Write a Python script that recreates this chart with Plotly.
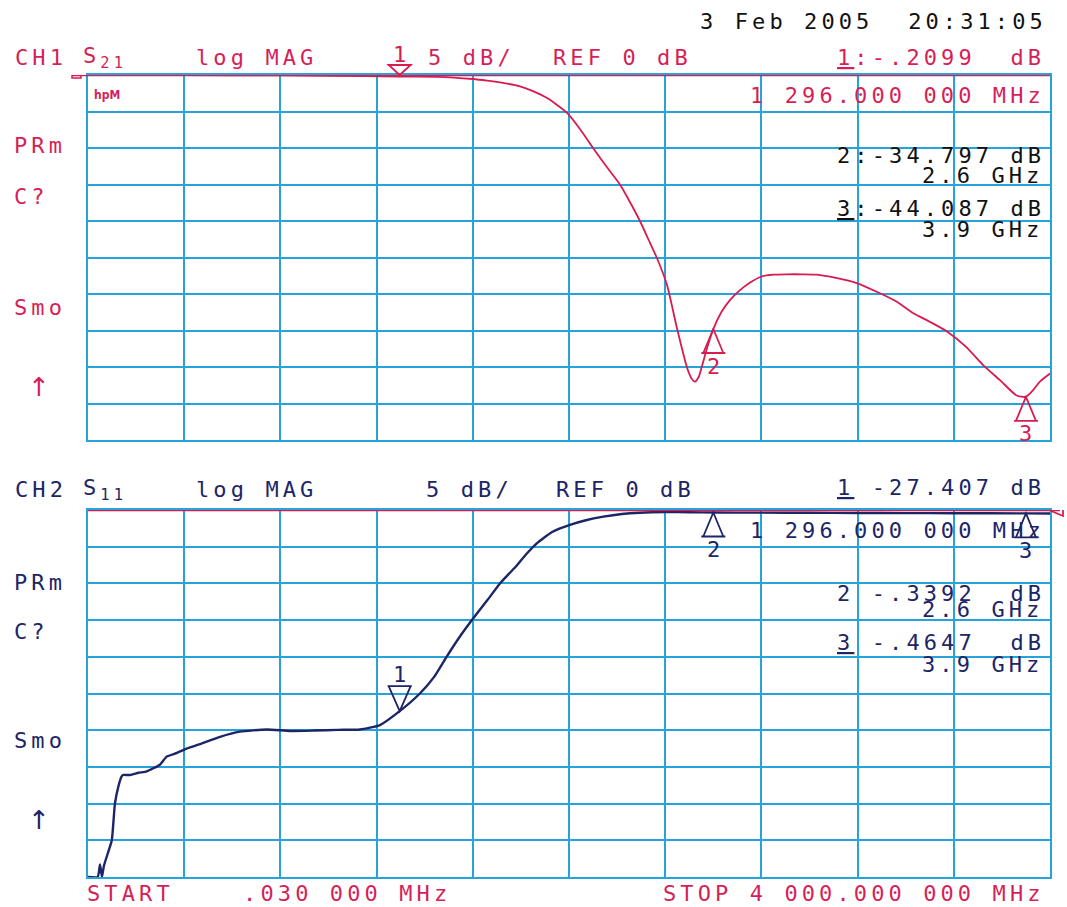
import plotly.graph_objects as go

W, H = 1067, 907
PLOT_L, PLOT_R = 88, 1050
TOP_T, TOP_B = 75, 440
BOT_T, BOT_B = 510, 877

CRIMSON = '#d61f57'
TRACE_RED = '#d81c50'
NAVY = '#1c2566'
GRID = '#27a3dc'
MONO = 'DejaVu Sans Mono'

# ---------------- data ----------------
freq_start, freq_stop = 0.03, 4000.0      # MHz
ref_db, db_per_div, n_div = 0.0, 5.0, 10

# CH1: S21 log MAG (dB) vs frequency (MHz)
s21_freq = [0.03, 400, 800, 1000, 1296, 1450, 1520, 1600, 1659, 1730, 1796, 1850,
            1909, 1950, 1992, 2050, 2100, 2155, 2212, 2255, 2295, 2330, 2366, 2407,
            2449, 2491, 2510, 2524, 2540, 2552, 2575, 2600, 2635, 2670, 2703, 2750,
            2801, 2850, 2905, 2970, 3030, 3110, 3196, 3293, 3360, 3430, 3500, 3570,
            3650, 3721, 3792, 3861, 3900, 3929, 3958, 4000]
s21_db = [0.0, -0.02, -0.05, -0.12, -0.21, -0.26, -0.35, -0.55, -0.78, -1.1, -1.55, -2.2,
          -3.15, -4.1, -5.2, -7.6, -10.0, -12.5, -15.0, -17.5, -20.0, -22.5, -25.1, -28.7,
          -34.7, -40.1, -41.6, -42.0, -41.3, -40.0, -37.3, -34.8, -32.4, -30.8, -29.7, -28.5,
          -27.6, -27.35, -27.3, -27.3, -27.35, -27.8, -28.5, -29.9, -31.0, -32.6, -33.8, -35.1,
          -37.2, -39.7, -41.8, -43.9, -44.087, -43.2, -42.0, -40.9]

# CH2: S11 log MAG (dB) vs frequency (MHz)
s11_freq = [0.03, 40, 50, 58, 66, 85, 99, 112, 126, 140, 147, 175, 210, 244, 299, 327,
            370, 410, 466, 549, 632, 743, 840, 937, 1040, 1131, 1214, 1296, 1380, 1440,
            1491, 1545, 1602, 1660, 1713, 1750, 1782, 1820, 1866, 1930, 2004, 2070, 2143,
            2220, 2295, 2400, 2503, 2600, 2800, 3000, 3200, 3400, 3600, 3900, 4000]
s11_db = [-50.0, -50.0, -48.3, -50.0, -48.5, -46.5, -45.0, -40.0, -37.7, -36.3, -36.1, -36.1,
          -35.8, -35.6, -34.7, -33.6, -33.1, -32.5, -31.9, -30.9, -30.2, -29.9, -30.1, -30.05,
          -29.95, -29.9, -29.3, -27.407, -25.0, -22.7, -20.0, -17.3, -14.75, -12.3, -10.0,
          -8.7, -7.6, -6.1, -4.54, -3.0, -2.04, -1.4, -0.91, -0.55, -0.37, -0.28, -0.3,
          -0.3392, -0.36, -0.38, -0.4, -0.42, -0.44, -0.4647, -0.47]

marker_ids = ['1', '2', '3']
marker_freq = [1296.0, 2600.0, 3900.0]
s21_marker_db = [-0.2099, -34.797, -44.087]
s11_marker_db = [-27.407, -0.3392, -0.4647]

# ---------------- figure ----------------
fig = go.Figure()
fig.add_trace(go.Scatter(x=s21_freq, y=s21_db, mode='lines', xaxis='x', yaxis='y',
                         line=dict(color=TRACE_RED, width=1.8, shape='spline', smoothing=0.6),
                         hoverinfo='skip'))
fig.add_trace(go.Scatter(x=s11_freq, y=s11_db, mode='lines', xaxis='x2', yaxis='y2',
                         line=dict(color=NAVY, width=2.4, shape='spline', smoothing=0.5),
                         hoverinfo='skip'))

x_dtick = (freq_stop - freq_start) / n_div
y_bottom = ref_db - db_per_div * n_div


def xax(anchor):
    return dict(domain=[PLOT_L / W, PLOT_R / W], range=[freq_start, freq_stop], anchor=anchor,
                tickmode='linear', tick0=freq_start, dtick=x_dtick, showgrid=True,
                gridcolor=GRID, gridwidth=2, showticklabels=False, ticks='', zeroline=False,
                showline=True, linecolor=GRID, linewidth=2, mirror=True, fixedrange=True)


def yax(anchor, top, bot):
    return dict(domain=[1 - bot / H, 1 - top / H], range=[y_bottom, ref_db], anchor=anchor,
                tickmode='linear', tick0=ref_db, dtick=db_per_div, showgrid=True,
                gridcolor=GRID, gridwidth=2, showticklabels=False, ticks='', zeroline=False,
                showline=True, linecolor=GRID, linewidth=2, mirror=True, fixedrange=True)


anns = []


def txt(text, x, y, color, anchor='left', size=22, ls=4.1, family=MONO, bold=False):
    t = f'<span style="letter-spacing:{ls}px">{text}</span>' if ls else text
    if bold:
        t = f'<b>{t}</b>'
    anns.append(dict(text=t, x=x / W, y=1 - y / H, xref='paper', yref='paper',
                     xanchor=anchor, yanchor='middle', showarrow=False, borderpad=0,
                     font=dict(family=family, size=size, color=color)))


# header / footer texts
txt('3 Feb 2005  20:31:05', 1048, 22, '#111111', anchor='right')
txt('CH1', 14, 57, CRIMSON)
txt('S<sub>21</sub>', 82, 57, CRIMSON)
txt('log MAG', 195, 57, CRIMSON)
txt('5 dB/', 427, 57, CRIMSON)
txt('REF 0 dB', 552, 57, CRIMSON)
txt('<u>1</u>:-.2099  dB', 1046, 57, CRIMSON, anchor='right')
txt('hpM', 93, 95, CRIMSON, size=12, ls=0, family='DejaVu Sans Condensed', bold=True)
txt('1 296.000 000 MHz', 1046, 96, CRIMSON, anchor='right')
txt('2:-34.797 dB', 1046, 156, '#111111', anchor='right')
txt('2.6 GHz', 1044, 175, '#111111', anchor='right')
txt('<u>3</u>:-44.087 dB', 1046, 208, '#111111', anchor='right')
txt('3.9 GHz', 1044, 230, '#111111', anchor='right')

for lab, yy in [('PRm', 145), ('C?', 197), ('Smo', 308)]:
    txt(lab, 13, yy, CRIMSON)
txt('↑', 39, 387, CRIMSON, anchor='center', ls=0, size=26, family='DejaVu Sans')

txt('CH2', 14, 489, NAVY)
txt('S<sub>11</sub>', 82, 489, NAVY)
txt('log MAG', 195, 489, NAVY)
txt('5 dB/', 425, 489, NAVY)
txt('REF 0 dB', 555, 489, NAVY)
txt('<u>1</u> -27.407 dB', 1046, 487, NAVY, anchor='right')
txt('1 296.000 000 MHz', 1046, 530, NAVY, anchor='right')
txt('2 -.3392  dB', 1046, 593, NAVY, anchor='right')
txt('2.6 GHz', 1044, 609, NAVY, anchor='right')
txt('<u>3</u> -.4647  dB', 1046, 642, NAVY, anchor='right')
txt('3.9 GHz', 1044, 664, NAVY, anchor='right')

for lab, yy in [('PRm', 582), ('C?', 631), ('Smo', 740)]:
    txt(lab, 13, yy, NAVY)
txt('↑', 39, 820, NAVY, anchor='center', ls=0, size=26, family='DejaVu Sans')

txt('START    .030 000 MHz', 86, 893, CRIMSON)
txt('STOP 4 000.000 000 MHz', 1046, 893, CRIMSON, anchor='right')

shapes = []
# reference lines (REF 0 dB) and reference pointers
shapes.append(dict(type='line', xref='x domain', yref='y', x0=-16 / 962, x1=1, y0=ref_db, y1=ref_db,
                   line=dict(color=TRACE_RED, width=2.5)))
shapes.append(dict(type='path', xref='x domain', yref='y', xsizemode='pixel', ysizemode='pixel',
                   xanchor=-16 / 962, yanchor=ref_db, path='M0,0 L0,3 L9,3 L9,-3 L0,-3 Z',
                   line=dict(color=TRACE_RED, width=1.5)))
shapes.append(dict(type='line', xref='x2 domain', yref='y2', x0=0, x1=1 + 10 / 962, y0=ref_db, y1=ref_db,
                   line=dict(color=TRACE_RED, width=2.5)))
shapes.append(dict(type='path', xref='x2 domain', yref='y2', xsizemode='pixel', ysizemode='pixel',
                   xanchor=1, yanchor=ref_db, path='M-1,0 L13,6 L13,-6 Z',
                   line=dict(color=TRACE_RED, width=1.8)))


def marker(xr, yr, f, v, mid, color, down, tri_h=24, at_ref=False):
    if down:
        path = f'M0,0 L-11,{tri_h} L11,{tri_h} Z M-12,{tri_h} L12,{tri_h}'
        shift = tri_h + 12
    else:
        path = 'M0,0 L-10,-24 L10,-24 Z M-12,-24 L12,-24'
        shift = -37
    if at_ref:
        # marker sits on the REF line at the top edge of the grid: anchor to the
        # axis domain edge so the shape is not clipped by the plot area
        shapes.append(dict(type='path', xref=xr, yref=yr + ' domain', xsizemode='pixel',
                           ysizemode='pixel', xanchor=f, yanchor=1, path=path,
                           line=dict(color=color, width=1.8)))
    else:
        shapes.append(dict(type='path', xref=xr, yref=yr, xsizemode='pixel', ysizemode='pixel',
                           xanchor=f, yanchor=v, path=path, line=dict(color=color, width=1.8)))
    anns.append(dict(text=mid, x=f, y=v, xref=xr, yref=yr, showarrow=False, yshift=shift,
                     xanchor='center', yanchor='middle', borderpad=0,
                     font=dict(family=MONO, size=22, color=color)))


for i, (mid, f) in enumerate(zip(marker_ids, marker_freq)):
    marker('x', 'y', f, s21_marker_db[i], mid, TRACE_RED, down=(i == 0), tri_h=10, at_ref=(i == 0))
    marker('x2', 'y2', f, s11_marker_db[i], mid, NAVY, down=(i == 0), tri_h=25)

fig.update_layout(
    width=W, height=H, margin=dict(l=0, r=0, t=0, b=0),
    paper_bgcolor='white', plot_bgcolor='white', showlegend=False,
    xaxis=xax('y'), yaxis=yax('x', TOP_T, TOP_B),
    xaxis2=xax('y2'), yaxis2=yax('x2', BOT_T, BOT_B),
    annotations=anns, shapes=shapes,
)

fig.write_html('out.html')
